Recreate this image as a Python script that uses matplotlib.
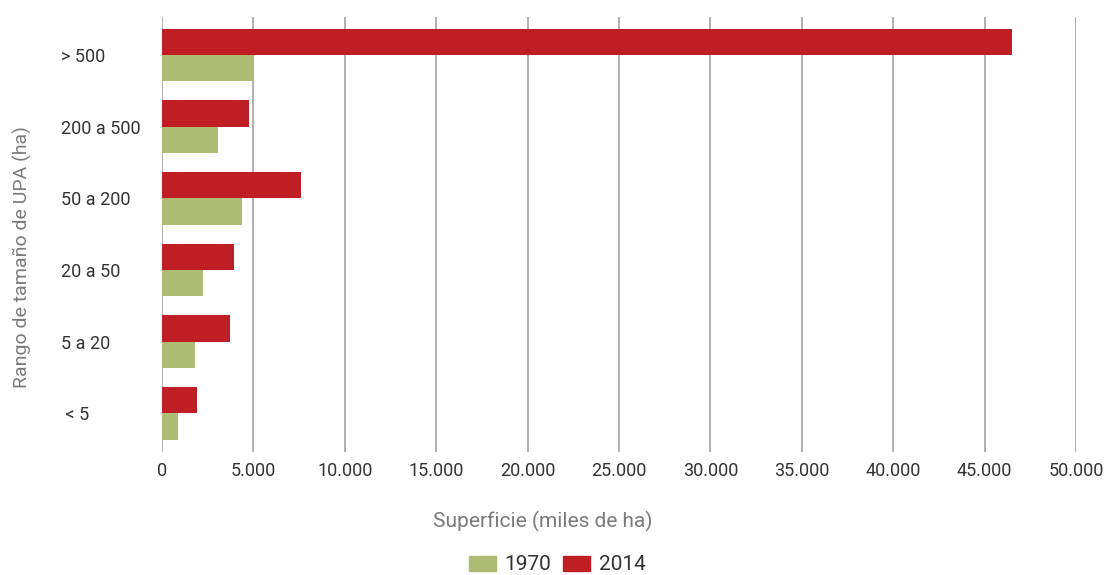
import matplotlib.pyplot as plt
import matplotlib.ticker as mticker
from matplotlib.patches import Patch
import numpy as np

# Superficie por rango de tamaño de UPA (miles de ha)
categorias = ["< 5", "5 a 20", "20 a 50", "50 a 200", "200 a 500", "> 500"]
sup_1970 = [850, 1820, 2220, 4360, 3040, 5020]
sup_2014 = [1910, 3700, 3940, 7590, 4740, 46500]
xticks = list(range(0, 50001, 5000))

VERDE = "#AEBB72"
ROJO = "#BE1E24"
TEXTO = "#333333"
GRIS = "#7A7A7A"

plt.rcParams["font.family"] = ["Roboto", "DejaVu Sans"]

fig = plt.figure(figsize=(11.07, 5.75), dpi=100)
ax = fig.add_axes([162 / 1107, 1 - 452 / 575, 914 / 1107, 435 / 575])

y = np.arange(len(categorias))
h = 0.368
ax.barh(y - h / 2, sup_1970, height=h, color=VERDE, linewidth=0, zorder=3)
ax.barh(y + h / 2, sup_2014, height=h, color=ROJO, linewidth=0, zorder=3)

ax.set_xlim(0, 50000)
ax.set_ylim(-0.54, len(categorias) - 1 + 0.53)
ax.set_xticks(xticks)
ax.xaxis.set_major_formatter(mticker.FuncFormatter(lambda v, p: f"{int(v):,}".replace(",", ".")))
ax.grid(axis="x", color="#B0B0B0", linewidth=1.4, zorder=0)
for s in ax.spines.values():
    s.set_visible(False)

ax.set_yticks(y)
ax.set_yticklabels([" " + c if c == "< 5" else c for c in categorias], ha="left")
ax.tick_params(axis="y", length=0, pad=73, labelsize=13, labelcolor=TEXTO)
ax.tick_params(axis="x", length=0, pad=7, labelsize=13, labelcolor=TEXTO)

ax.set_xlabel("Superficie (miles de ha)", fontsize=15, color=GRIS)
ax.xaxis.set_label_coords((543 - 162) / 914, -(521 - 452) / 435)
ax.xaxis.label.set_va("center")
ax.set_ylabel("Rango de tamaño de UPA (ha)", fontsize=14, color=GRIS)
ax.yaxis.set_label_coords(-(162 - 22) / 914, (452 - 257) / 435)
ax.yaxis.label.set_va("center")

handles = [Patch(color=VERDE, label="1970"), Patch(color=ROJO, label="2014")]
fig.legend(handles=handles, loc="center", bbox_to_anchor=(557 / 1107, 1 - 565 / 575),
           ncol=2, frameon=False, fontsize=15, handlelength=1.3, handleheight=0.7,
           columnspacing=0.6, handletextpad=0.4, labelcolor=TEXTO)

fig.savefig("out.png", dpi=100)
